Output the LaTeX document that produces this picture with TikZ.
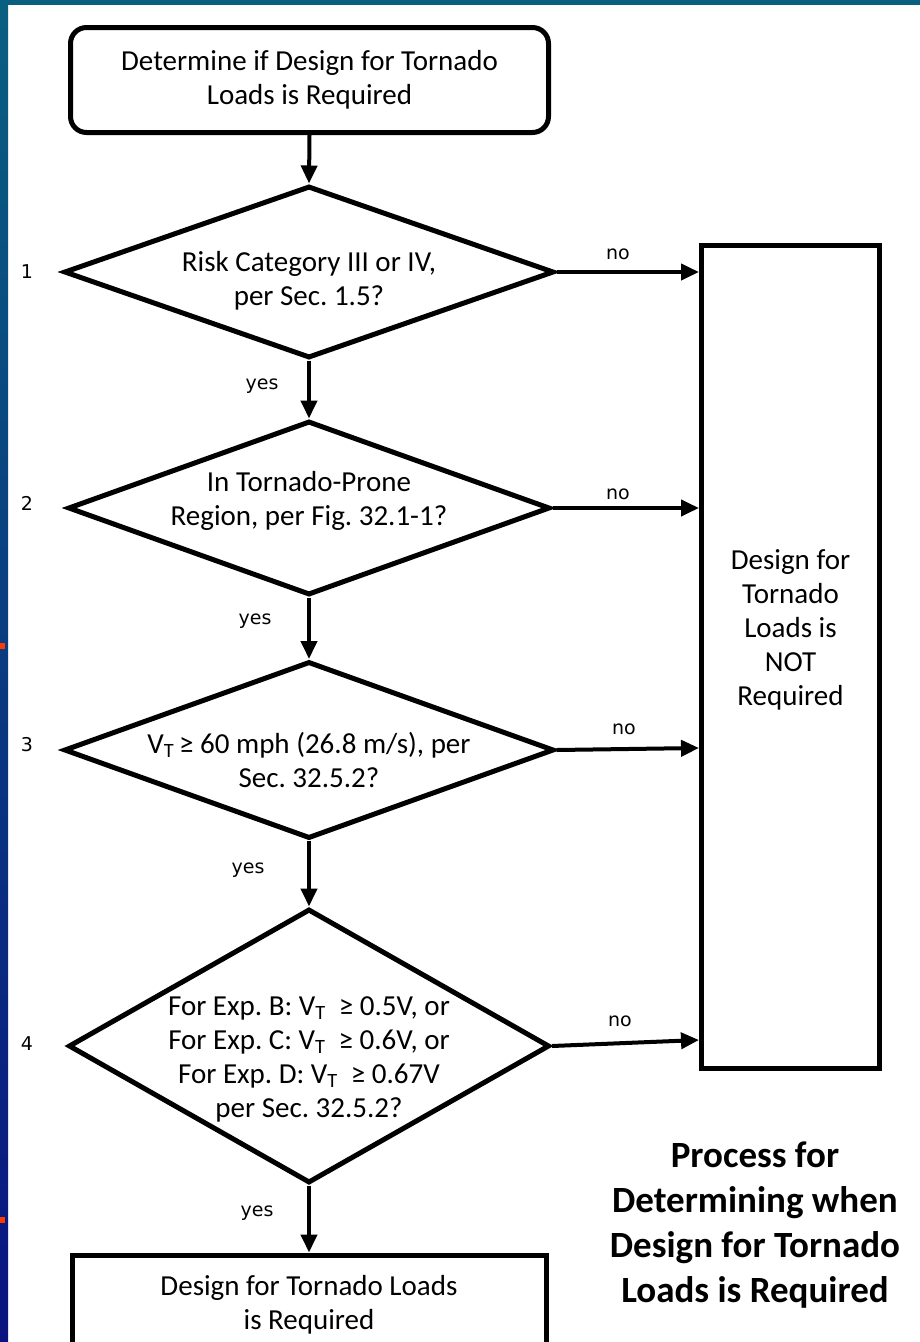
\documentclass[tikz,border=0pt]{standalone}
\usepackage{fontspec}
\setmainfont{Carlito}
\newfontfamily\tagfont{DejaVu Sans}
\usetikzlibrary{arrows.meta,positioning,shapes.geometric,calc}
\definecolor{frameteal}{HTML}{0A5F80}
\definecolor{framemid}{HTML}{0A3C8A}
\definecolor{framenavy}{HTML}{0A1480}
\definecolor{markorange}{HTML}{FF3A00}
\frenchspacing

\begin{document}
\begin{tikzpicture}[
			x=1pt,
			y=-1pt,
			box/.style={draw, line width=5pt, fill=white, inner sep=0pt, align=center,
				font=\fontsize{29}{34}\selectfont},
			startbox/.style={box, rounded corners=16pt, minimum width=478pt, minimum height=105pt},
			decision/.style={box, diamond},
			qtext/.style={align=center, inner sep=0pt, font=\fontsize{29}{34}\selectfont},
			flow/.style={line width=4pt, -{Triangle[length=18pt,width=16pt]}},
			tag/.style={inner sep=0pt, font=\tagfont\fontsize{19}{22}\selectfont}
			]
			
			\useasboundingbox (0,0) rectangle (920,1342);
			\clip (0,0) rectangle (920,1342);
			
			%------------------------------
			% Slide frame
			%------------------------------
			\fill[white] (0,0) rectangle (920,1342);
			\shade[top color=frameteal, middle color=framemid, bottom color=framenavy] (0,0) rectangle (8,1342);
			\fill[frameteal] (0,0) rectangle (920,5);
			\fill[markorange] (0,643) rectangle (5,649);
			\fill[markorange] (0,1217) rectangle (5,1223);
			
			%------------------------------
			% Boxes and decisions
			%------------------------------
			\node[startbox] (start) at (309.5,80) {Determine if Design for Tornado\\Loads is Required};
			
			\node[decision, minimum width=490pt, minimum height=172pt] (d1) at (309,272) {};
			\node[qtext] (q1) at ($(d1.center)+(0,9)$) {Risk Category III or IV,\\per Sec. 1.5?};
			
			\node[decision, minimum width=482pt, minimum height=174pt] (d2) at (309,508) {};
			\node[qtext] (q2) at ($(d2.center)+(0,-7)$) {In Tornado-Prone\\Region, per Fig. 32.1-1?};
			
			\node[decision, minimum width=490pt, minimum height=177pt] (d3) at (309,750) {};
			\node[qtext] (q3) at ($(d3.center)+(0,10)$) {V\textsubscript{T}\,≥ 60 mph (26.8 m/s), per\\Sec. 32.5.2?};
			
			\node[decision, minimum width=481pt, minimum height=274pt] (d4) at (309,1046) {};
			\node[qtext] (q4) at ($(d4.center)+(0,13)$) {For Exp. B: V\textsubscript{T}\ \ ≥ 0.5V, or\\For Exp. C: V\textsubscript{T}\ \ ≥ 0.6V, or\\For Exp. D: V\textsubscript{T}\ \ ≥ 0.67V\\per Sec. 32.5.2?};
			
			\node[box, minimum width=178pt, minimum height=823pt] (notreq) at (790.5,657) {};
			\node[qtext] (notreqtxt) at ($(notreq.center)+(0,-27)$) {Design for\\Tornado\\Loads is\\NOT\\Required};
			
			\node[box, minimum width=474pt, minimum height=100pt] (req) at (309,1305) {Design for Tornado Loads\\is Required};
			
			\node[align=center, inner sep=0pt, font=\bfseries\fontsize{37}{45}\selectfont] (title) at (755,1225) {Process for\\Determining when\\Design for Tornado\\Loads is Required};
			
			%------------------------------
			% Connectors
			%------------------------------
			\draw[flow] (start.south) -- (d1.north);
			\draw[flow] (d1.south) -- (d2.north);
			\draw[flow] (d2.south) -- (d3.north);
			\draw[flow] (d3.south) -- (d4.north);
			\draw[flow] (d4.south) -- (req.north);
			
			\draw[flow] (d1.east) -- (d1.east -| notreq.west);
			\draw[flow] (d2.east) -- (d2.east -| notreq.west);
			\draw[flow] (d3.east) -- ($(d3.east -| notreq.west)+(0,-2)$);
			\draw[flow] (d4.east) -- ($(d4.east -| notreq.west)+(0,-6)$);
			
			% step numbers and answers
			\foreach \n/\y in {1/272, 2/503, 3/745, 4/1044}{
				\node[tag] (num\n) at (27,\y) {\n};
			}
			\node[tag] (no1) at (618,254) {no};
			\node[tag] (no2) at (618,494) {no};
			\node[tag] (no3) at (624,729) {no};
			\node[tag] (no4) at (620,1021) {no};
			\node[tag] (yes1) at (262,386) {yes};
			\node[tag] (yes2) at (255,621) {yes};
			\node[tag] (yes3) at (248,870) {yes};
			\node[tag] (yes4) at (257,1213) {yes};
		\end{tikzpicture}
\end{document}
